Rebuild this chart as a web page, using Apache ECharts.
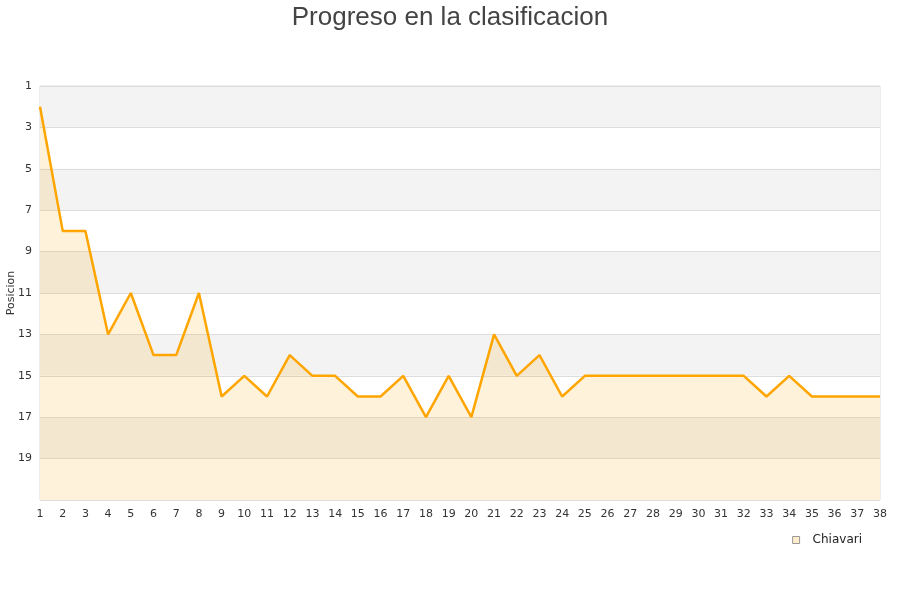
<!DOCTYPE html>
<html><head><meta charset="utf-8">
<script src="https://cdn.jsdelivr.net/npm/echarts@6/dist/echarts.min.js"></script>
<style>html,body{margin:0;padding:0;background:#fff}#c{width:900px;height:600px}</style>
</head><body><div id="c"></div>
<script>
var jornadas = ['1','2','3','4','5','6','7','8','9','10','11','12','13','14','15','16','17','18','19','20','21','22','23','24','25','26','27','28','29','30','31','32','33','34','35','36','37','38'];
var posiciones = [2,8,8,13,11,14,14,11,16,15,16,14,15,15,16,16,15,17,15,17,13,15,14,16,15,15,15,15,15,15,15,15,16,15,16,16,16,16];
var seriesName = 'Chiavari';
var titleText = 'Progreso en la clasificacion';
var yName = 'Posicion';

var chart = echarts.init(document.getElementById('c'));
chart.setOption({
  animation: false,
  title: { text: titleText, left: 'center', top: 0,
    textStyle: { fontFamily: 'Liberation Sans, Arial', fontSize: 26, fontWeight: 'normal', color: '#444' } },
  legend: { data: [{ name: seriesName, icon: 'rect', itemStyle: { color: '#FFEDCC', borderColor: '#999', borderWidth: 1 } }],
    right: 33, top: 529, itemWidth: 7, itemHeight: 7, itemGap: 10,
    textStyle: { fontFamily: 'DejaVu Sans', fontSize: 12, color: '#222', padding: [0, 0, 0, 8] } },
  grid: { left: 40, right: 20, top: 86, bottom: 100, show: true, borderColor: '#ddd', borderWidth: 1,
    containLabel: false, outerBoundsMode: 'none' },
  xAxis: { type: 'category', data: jornadas, boundaryGap: false,
    axisLine: { show: false }, axisTick: { show: false },
    axisLabel: { fontFamily: 'DejaVu Sans', fontSize: 11, color: '#333', margin: 9, interval: 0 },
    splitLine: { show: false } },
  yAxis: { type: 'value', inverse: true, min: 1, max: 21, interval: 2,
    name: yName, nameLocation: 'middle', nameGap: 23, nameMoveOverlap: false,
    nameTextStyle: { fontFamily: 'DejaVu Sans', fontSize: 11, color: '#333' },
    axisLine: { show: false }, axisTick: { show: false },
    axisLabel: { fontFamily: 'DejaVu Sans', fontSize: 11, color: '#333', margin: 8,
      formatter: function (v) { return v === 21 ? '' : String(v); } },
    splitLine: { show: true, lineStyle: { color: '#ddd', width: 1 } },
    splitArea: { show: true, areaStyle: { color: ['#F3F3F3', '#FFFFFF'] } } },
  series: [{ name: seriesName, type: 'line', data: posiciones, showSymbol: false,
    lineStyle: { color: '#FFA500', width: 2.5 }, itemStyle: { color: '#FFA500' },
    areaStyle: { origin: 'end', color: 'rgba(255,165,0,0.2)' } }]
});
</script></body></html>
